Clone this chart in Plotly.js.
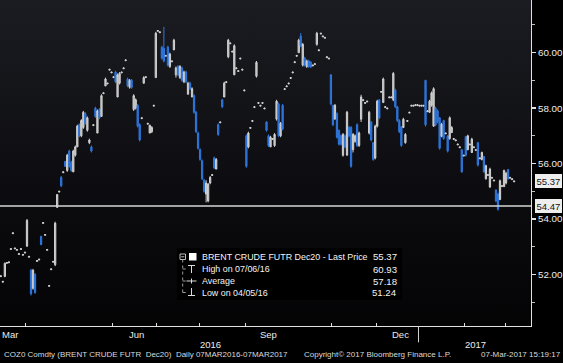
<!DOCTYPE html>
<html>
<head>
<meta charset="utf-8">
<script src="https://cdn.plot.ly/plotly-3.0.1.min.js"></script>
<style>html,body{margin:0;padding:0;background:#000;}#chart{width:563px;height:363px;}</style>
</head>
<body>
<div id="chart"></div>
<script>
// ---- Data ----
const dates = [
'2016-03-14','2016-03-15','2016-03-16','2016-03-17','2016-03-18',
'2016-03-21','2016-03-22','2016-03-23','2016-03-24','2016-03-25',
'2016-03-28','2016-03-29','2016-03-30','2016-03-31','2016-04-01',
'2016-04-04','2016-04-05','2016-04-06','2016-04-07','2016-04-08',
'2016-04-11','2016-04-12','2016-04-13','2016-04-14','2016-04-15',
'2016-04-18','2016-04-19','2016-04-20','2016-04-21','2016-04-22',
'2016-04-25','2016-04-26','2016-04-27','2016-04-28','2016-04-29',
'2016-05-02','2016-05-03','2016-05-04','2016-05-05','2016-05-06',
'2016-05-09','2016-05-10','2016-05-11','2016-05-12','2016-05-13',
'2016-05-16','2016-05-17','2016-05-18','2016-05-19','2016-05-20',
'2016-05-23','2016-05-24','2016-05-25','2016-05-26','2016-05-27',
'2016-05-30','2016-05-31','2016-06-01','2016-06-02','2016-06-03',
'2016-06-06','2016-06-07','2016-06-08','2016-06-09','2016-06-10',
'2016-06-13','2016-06-14','2016-06-15','2016-06-16','2016-06-17',
'2016-06-20','2016-06-21','2016-06-22','2016-06-23','2016-06-24',
'2016-06-27','2016-06-28','2016-06-29','2016-06-30','2016-07-01',
'2016-07-04','2016-07-05','2016-07-06','2016-07-07','2016-07-08',
'2016-07-11','2016-07-12','2016-07-13','2016-07-14','2016-07-15',
'2016-07-18','2016-07-19','2016-07-20','2016-07-21','2016-07-22',
'2016-07-25','2016-07-26','2016-07-27','2016-07-28','2016-07-29',
'2016-08-01','2016-08-02','2016-08-03','2016-08-04','2016-08-05',
'2016-08-08','2016-08-09','2016-08-10','2016-08-11','2016-08-12',
'2016-08-15','2016-08-16','2016-08-17','2016-08-18','2016-08-19',
'2016-08-22','2016-08-23','2016-08-24','2016-08-25','2016-08-26',
'2016-08-29','2016-08-30','2016-08-31','2016-09-01','2016-09-02',
'2016-09-05','2016-09-06','2016-09-07','2016-09-08','2016-09-09',
'2016-09-12','2016-09-13','2016-09-14','2016-09-15','2016-09-16',
'2016-09-19','2016-09-20','2016-09-21','2016-09-22','2016-09-23',
'2016-09-26','2016-09-27','2016-09-28','2016-09-29','2016-09-30',
'2016-10-03','2016-10-04','2016-10-05','2016-10-06','2016-10-07',
'2016-10-10','2016-10-11','2016-10-12','2016-10-13','2016-10-14',
'2016-10-17','2016-10-18','2016-10-19','2016-10-20','2016-10-21',
'2016-10-24','2016-10-25','2016-10-26','2016-10-27','2016-10-28',
'2016-10-31','2016-11-01','2016-11-02','2016-11-03','2016-11-04',
'2016-11-07','2016-11-08','2016-11-09','2016-11-10','2016-11-11',
'2016-11-14','2016-11-15','2016-11-16','2016-11-17','2016-11-18',
'2016-11-21','2016-11-22','2016-11-23','2016-11-24','2016-11-25',
'2016-11-28','2016-11-29','2016-11-30','2016-12-01','2016-12-02',
'2016-12-05','2016-12-06','2016-12-07','2016-12-08','2016-12-09',
'2016-12-12','2016-12-13','2016-12-14','2016-12-15','2016-12-16',
'2016-12-19','2016-12-20','2016-12-21','2016-12-22','2016-12-23',
'2016-12-26','2016-12-27','2016-12-28','2016-12-29','2016-12-30',
'2017-01-02','2017-01-03','2017-01-04','2017-01-05','2017-01-06',
'2017-01-09','2017-01-10','2017-01-11','2017-01-12','2017-01-13',
'2017-01-16','2017-01-17','2017-01-18','2017-01-19','2017-01-20',
'2017-01-23','2017-01-24','2017-01-25','2017-01-26','2017-01-27',
'2017-01-30','2017-01-31','2017-02-01','2017-02-02','2017-02-03',
'2017-02-06','2017-02-07','2017-02-08','2017-02-09','2017-02-10',
'2017-02-13','2017-02-14','2017-02-15','2017-02-16','2017-02-17',
'2017-02-20','2017-02-21','2017-02-22','2017-02-23','2017-02-24',
'2017-02-27','2017-02-28','2017-03-01','2017-03-02','2017-03-03',
'2017-03-06','2017-03-07'
];

const openP = [
52.62,51.92,51.72,51.93,52.40, 52.42,52.90,53.47,52.92,52.87, 52.72,52.90,52.69,52.77,53.02,
52.62,52.15,51.50,52.00,52.47, 52.52,53.37,53.84,53.41,52.87, 51.57,52.17,52.44,52.35,54.42,
54.97,55.50,55.67,56.07,55.75, 56.45,56.05,55.70,56.30,56.60, 57.40,57.00,57.30,57.80,57.20,
56.75,56.60,57.37,58.00,57.10, 57.95,57.70,58.52,58.80,58.87, 59.37,59.27,59.10,59.30,58.40,
58.90,59.27,59.42,59.71,59.05, 58.75,59.00,57.95,58.00,58.10, 57.40,57.62,58.90,59.10,57.42,
57.10,57.15,58.07,59.10,60.77, 60.72,60.20,60.15,59.87,60.20, 59.50,59.67,60.10,59.20,59.50,
59.10,59.45,58.95,59.30,58.50, 58.90,58.40,58.45,57.85,57.10, 56.50,56.10,55.40,54.90,54.65,
55.30,55.57,56.20,55.80,57.40, 57.47,58.30,58.40,58.92,59.85, 60.32,60.02,59.20,59.42,59.32,
59.77,59.37,58.62,57.00,56.60, 57.27,57.52,58.02,59.15,58.17, 58.07,58.17,57.97,57.50,57.00,
56.60,56.87,56.65,57.60,58.15, 57.00,58.10,58.67,58.77,58.87, 59.07,59.27,59.64,59.87,60.00,
60.60,59.55,59.80,59.50,59.70, 59.65,59.52,59.57,60.30,60.07, 60.67,60.57,60.52,59.82,59.77,
59.20,58.10,57.60,57.80,57.20, 57.00,56.30,57.00,56.30,57.30, 57.30,56.50,56.80,57.40,56.65,
57.60,58.27,58.17,58.22,57.10, 57.50,56.75,56.20,57.35,58.30, 58.57,58.20,58.02,57.97,58.37,
58.37,58.30,58.65,58.05,57.55, 57.33,57.30,56.75,57.52,57.82, 58.07,58.07,58.09,58.09,58.07,
58.07,58.07,59.00,57.87,57.85, 58.10,57.35,58.00,57.90,57.65, 56.98,57.55,57.07,57.00,56.90,
57.12,56.87,56.82,56.67,56.57, 56.50,56.27,56.97,56.50,56.67, 56.40,56.57,56.47,56.75,56.17,
56.14,56.25,55.45,55.57,55.15, 55.47,55.37,55.05,54.90,54.70, 55.17,55.17,55.30,55.78,55.47,
55.42,55.34
];

const highP = [
52.65,51.95,51.75,52.43,52.43, 52.45,52.93,53.50,52.95,52.90, 52.75,52.93,52.72,52.80,54.00,
52.65,52.20,52.20,52.05,52.50, 52.55,53.40,53.87,53.44,52.90, 51.60,52.20,52.47,53.90,54.90,
55.00,55.55,55.70,56.10,56.35, 56.50,56.10,56.50,56.65,57.40, 57.45,57.60,57.90,57.85,57.70,
56.90,56.65,57.40,58.05,57.95, 58.00,58.50,58.55,59.10,58.90, 59.40,59.30,59.13,59.35,59.25,
59.30,59.30,59.45,59.74,59.10, 59.05,59.05,58.50,58.35,58.15, 57.45,57.65,59.15,59.13,57.45,
57.40,57.35,58.10,60.75,60.80, 60.75,60.25,60.93,59.90,60.25, 60.00,59.70,60.50,59.50,59.55,
59.55,59.50,59.35,59.35,58.95, 58.95,58.75,58.50,57.90,57.15, 56.55,56.15,55.45,55.40,55.30,
55.55,55.60,56.25,56.20,57.45, 57.50,58.32,58.95,58.95,60.50, 60.35,60.05,60.30,59.45,59.35,
59.80,59.40,58.65,57.05,57.15, 57.30,57.55,58.05,59.70,58.20, 58.10,58.20,58.00,57.52,57.05,
57.00,56.90,57.10,58.30,58.20, 57.50,58.15,58.70,58.80,58.90, 59.10,59.30,59.67,59.90,60.50,
60.71,60.35,59.85,59.75,59.75, 59.70,59.55,59.60,60.75,60.10, 60.70,60.60,60.55,59.85,59.80,
59.22,58.12,58.15,57.85,57.22, 57.05,57.10,57.05,57.90,57.35, 57.35,57.10,57.05,57.45,57.15,
58.48,58.30,58.20,58.25,57.90, 57.52,56.78,57.40,58.30,58.32, 58.60,59.10,58.05,58.00,58.40,
58.40,59.30,58.70,58.08,57.60, 57.35,57.65,57.10,57.55,57.85, 58.10,58.10,58.12,58.12,58.10,
58.10,58.10,59.02,57.90,58.30, 58.60,58.75,58.05,57.95,57.68, 57.47,57.58,57.10,57.02,57.70,
57.35,56.90,56.85,56.70,56.60, 56.52,56.30,57.00,57.04,56.70, 56.93,56.60,56.50,56.78,56.20,
56.43,56.28,55.96,55.60,55.85, 55.50,55.40,55.06,54.95,55.42, 55.20,55.78,55.70,55.80,55.50,
55.45,55.37
];

const lowP = [
52.62,51.92,51.72,51.90,52.40, 52.42,52.90,53.47,52.92,52.87, 52.72,52.90,52.69,52.77,53.00,
52.62,51.24,51.45,51.30,52.47, 52.52,53.05,53.84,53.41,52.87, 51.57,52.17,52.44,52.30,54.40,
54.97,55.15,55.67,55.88,55.70, 55.85,55.70,55.70,56.25,56.60, 56.95,56.95,57.25,57.40,57.15,
56.70,56.40,57.37,57.65,57.10, 57.60,57.70,58.52,58.80,58.87, 59.37,59.27,59.10,58.90,58.40,
58.85,59.27,59.42,59.71,58.75, 58.70,58.70,57.90,57.95,57.30, 56.80,57.62,58.88,59.10,57.42,
57.10,57.10,58.07,59.10,60.77, 60.72,59.75,59.65,59.87,59.50, 59.45,59.67,60.10,59.10,59.15,
59.05,58.95,58.90,58.90,58.50, 58.65,58.40,57.80,57.10,56.50, 56.10,55.40,54.95,54.60,54.60,
55.25,55.57,55.80,55.80,57.00, 57.47,58.00,58.40,58.92,59.80, 60.32,60.02,59.20,59.42,59.32,
59.77,59.37,58.62,55.85,56.55, 57.27,57.52,58.02,59.10,58.17, 58.07,58.17,57.97,57.15,56.60,
56.60,56.87,56.60,57.55,56.95, 56.95,57.20,58.67,58.77,58.87, 59.07,59.27,59.64,59.87,60.00,
60.20,59.50,59.50,59.45,59.45, 59.45,59.52,59.57,60.25,60.07, 60.67,60.57,60.52,59.82,59.77,
58.10,57.35,57.60,56.90,56.65, 56.65,56.25,56.55,56.30,56.95, 55.85,56.40,56.75,56.60,56.60,
57.50,58.27,58.17,58.22,57.05, 56.80,56.10,56.15,57.30,57.60, 58.57,58.20,58.02,57.97,58.37,
58.37,58.25,58.00,57.50,57.10, 56.60,57.28,56.72,57.52,57.82, 58.07,58.07,58.09,58.09,58.07,
58.07,58.07,57.33,57.87,57.83, 58.05,57.33,57.35,57.45,56.50, 56.95,56.86,57.07,56.40,56.86,
57.10,56.87,56.82,56.67,56.57, 55.67,56.27,56.25,56.48,56.67, 56.38,56.57,56.47,55.89,56.17,
56.12,55.67,55.42,55.57,55.13, 55.47,55.37,54.60,54.30,54.68, 55.17,55.15,55.25,55.42,55.47,
55.42,55.34
];

const closeP = [
52.65,51.95,51.75,52.40,52.43, 52.45,52.93,53.50,52.95,52.90, 52.75,52.93,52.72,52.80,53.95,
52.65,51.30,52.15,51.35,52.50, 52.55,53.08,53.87,53.44,52.90, 51.60,52.20,52.47,53.85,54.88,
55.00,55.20,55.70,55.90,56.30, 55.90,55.75,56.45,56.60,57.35, 57.00,57.55,57.85,57.45,57.65,
56.85,56.45,57.40,57.70,57.90, 57.65,58.45,58.55,59.05,58.90, 59.40,59.30,59.13,58.95,59.20,
59.25,59.30,59.45,59.74,58.80, 59.00,58.75,58.45,58.30,57.35, 56.85,57.65,59.10,59.13,57.45,
57.38,57.30,58.10,60.70,60.80, 60.75,59.80,59.70,59.90,59.55, 59.95,59.70,60.45,59.45,59.20,
59.50,59.00,59.30,58.95,58.90, 58.70,58.70,57.85,57.15,56.55, 56.15,55.45,55.00,55.30,55.25,
55.50,55.60,55.85,56.15,57.05, 57.50,58.05,58.90,58.95,60.45, 60.35,60.05,60.25,59.45,59.35,
59.80,59.40,58.65,55.90,57.10, 57.30,57.55,58.05,59.65,58.20, 58.10,58.20,58.00,57.20,56.65,
56.95,56.90,57.05,58.25,57.00, 57.45,57.25,58.70,58.80,58.90, 59.10,59.30,59.67,59.90,60.45,
60.25,60.30,59.55,59.70,59.50, 59.48,59.55,59.60,60.70,60.10, 60.70,60.60,60.55,59.85,59.80,
58.15,57.40,58.10,56.95,56.70, 56.70,57.05,56.60,57.85,57.00, 55.90,57.05,57.00,56.65,57.10,
58.40,58.30,58.20,58.25,57.85, 56.85,56.15,57.35,58.25,57.65, 58.60,59.05,58.05,58.00,58.40,
58.40,59.25,58.05,57.55,57.15, 56.65,57.60,57.05,57.55,57.85, 58.10,58.10,58.12,58.12,58.10,
58.10,58.10,57.40,57.90,58.25, 58.55,58.70,57.40,57.50,56.55, 57.42,56.90,57.10,56.45,57.65,
57.30,56.90,56.85,56.70,56.60, 55.70,56.30,56.30,57.00,56.70, 56.88,56.60,56.50,55.95,56.20,
56.40,55.70,55.92,55.60,55.80, 55.50,55.40,54.65,54.35,55.38, 55.20,55.75,55.65,55.45,55.50,
55.45,55.37
];

const monthTicks = ['2016-04-01','2016-05-01','2016-06-01','2016-07-01','2016-08-01','2016-09-01',
  '2016-10-01','2016-11-01','2016-12-01','2017-01-01','2017-02-01','2017-03-01'];
const yTickVals = [52, 54, 56, 58, 60];
const yTickText = ['52.00', '54.00', '56.00', '58.00', '60.00'];
const yMinorVals = [51, 53, 55, 57, 59, 61];
const monthLabels = ['Mar', 'Jun', 'Sep', 'Dec'];
const yearLabels = ['2016', '2017'];
const lastPrice = 55.37;
const refLevel = 54.47;
const legendNames = ['BRENT CRUDE FUTR Dec20 - Last Price', 'High on 07/06/16', 'Average', 'Low on 04/05/16'];
const legendValues = ['55.37', '60.93', '57.18', '51.24'];

// ---- Layout helpers (pixel positions inside the 531x326 plot area) ----
const PW = 531, PH = 326;
const fx = p => p / PW;
const fy = p => 1 - p / PH;
const FONT = 'Liberation Sans, Arial, sans-serif';
const TXT = '#ececec';

const xs = dates.map(d => d + ' 12:00');

const trace = {
  type: 'candlestick',
  x: xs, open: openP, high: highP, low: lowP, close: closeP,
  increasing: {line: {color: '#d2d2d2', width: 1}, fillcolor: '#b9b9b9'},
  decreasing: {line: {color: '#2f78e0', width: 1}, fillcolor: '#2a6cd2'},
  whiskerwidth: 0,
  hoverinfo: 'skip',
  showlegend: false
};

const svgBg = '<svg xmlns="http://www.w3.org/2000/svg" width="100" height="100" viewBox="0 0 100 100" preserveAspectRatio="none">' +
  '<defs><linearGradient id="g" x1="0" y1="0" x2="0" y2="1">' +
  '<stop offset="0" stop-color="#1b1c21"/><stop offset="0.55" stop-color="#0d0d11"/><stop offset="1" stop-color="#040405"/>' +
  '</linearGradient></defs><rect width="100" height="100" fill="url(#g)"/></svg>';

const ln = (x0, y0, x1, y1, color, dash) => ({
  type: 'line', xref: 'paper', yref: 'paper', x0: fx(x0), y0: fy(y0), x1: fx(x1), y1: fy(y1),
  line: {color: color || '#cfcfcf', width: 1, dash: dash || 'solid'}, layer: 'above'
});

const shapes = [
  // reference level line
  {type: 'line', xref: 'paper', yref: 'y', x0: 0, x1: 1, y0: refLevel, y1: refLevel,
   line: {color: '#d6d6d6', width: 1.5}, layer: 'above'},
  // year boundary long tick
  {type: 'line', xref: 'x', yref: 'paper', x0: '2017-01-01', x1: '2017-01-01', y0: 0, y1: -0.05,
   line: {color: '#d6d6d6', width: 1}},
  // legend background
  {type: 'rect', xref: 'paper', yref: 'paper', x0: fx(177), x1: fx(402), y0: fy(300), y1: fy(248),
   fillcolor: '#000000', line: {width: 0}, layer: 'above'},
  // legend tree
  {type: 'rect', xref: 'paper', yref: 'paper', x0: fx(180), x1: fx(185.5), y0: fy(259.5), y1: fy(254),
   line: {color: '#bdbdbd', width: 1}, layer: 'above'},
  ln(181.2, 256.8, 184.3, 256.8, '#bdbdbd'),
  ln(182.7, 259.5, 182.7, 292.5, '#9a9a9a', 'dot'),
  ln(182.7, 269, 186, 269, '#9a9a9a', 'dot'),
  ln(182.7, 281, 186, 281, '#9a9a9a', 'dot'),
  ln(182.7, 292.5, 186, 292.5, '#9a9a9a', 'dot'),
  {type: 'rect', xref: 'paper', yref: 'paper', x0: fx(189), x1: fx(196.5), y0: fy(260.5), y1: fy(253),
   fillcolor: '#ffffff', line: {width: 0}, layer: 'above'},
  // high marker (T)
  ln(188, 265.5, 195, 265.5, '#dcdcdc'), ln(191.5, 265.5, 191.5, 273, '#dcdcdc'),
  // average marker
  ln(186.5, 281, 196.5, 281, '#dcdcdc'), ln(191.5, 278.5, 191.5, 283.5, '#dcdcdc'),
  // low marker (inverted T)
  ln(191.5, 288, 191.5, 295.5, '#dcdcdc'), ln(188, 295.5, 195, 295.5, '#dcdcdc')
];

const annotations = [];
const rowsY = [256.8, 269, 281, 292.5];
legendNames.forEach((t, i) => {
  annotations.push({xref: 'paper', yref: 'paper', x: fx(199.5), y: fy(rowsY[i]), xanchor: 'left', yanchor: 'middle',
    text: t, showarrow: false, font: {family: FONT, size: 8.9, color: '#f4f4f4'}});
  annotations.push({xref: 'paper', yref: 'paper', x: fx(398.5), y: fy(rowsY[i]), xanchor: 'right', yanchor: 'middle',
    text: legendValues[i], showarrow: false, font: {family: FONT, size: 9.6, color: '#f4f4f4'}});
});
// month and year labels
const monthPx = [10, 136, 268, 400];
monthLabels.forEach((t, i) => annotations.push({xref: 'paper', yref: 'paper', x: fx(monthPx[i]), y: 0,
  yshift: -8, xanchor: 'center', yanchor: 'middle', text: t, showarrow: false,
  font: {family: FONT, size: 9.5, color: TXT}}));
const yearPx = [210, 475];
yearLabels.forEach((t, i) => annotations.push({xref: 'paper', yref: 'paper', x: fx(yearPx[i]), y: 0,
  yshift: -18.5, xanchor: 'center', yanchor: 'middle', text: t, showarrow: false,
  font: {family: FONT, size: 9.5, color: TXT}}));
// footer
annotations.push({xref: 'paper', yref: 'paper', x: fx(1.5), y: 0, yshift: -28.5, xanchor: 'left', yanchor: 'middle',
  text: 'COZ0 Comdty (BRENT CRUDE FUTR  Dec20)  Daily 07MAR2016-07MAR2017', showarrow: false,
  font: {family: FONT, size: 8, color: '#dadada'}});
annotations.push({xref: 'paper', yref: 'paper', x: fx(302), y: 0, yshift: -28.5, xanchor: 'left', yanchor: 'middle',
  text: 'Copyright\u00a9 2017 Bloomberg Finance L.P.', showarrow: false,
  font: {family: FONT, size: 8, color: '#dadada'}});
annotations.push({xref: 'paper', yref: 'paper', x: fx(562.5), y: 0, yshift: -28.5, xanchor: 'right', yanchor: 'middle',
  text: '07-Mar-2017 15:19:17', showarrow: false,
  font: {family: FONT, size: 8, color: '#dadada'}});
// price tags on the right axis
[lastPrice, refLevel].forEach(v => annotations.push({xref: 'paper', yref: 'y', x: 1, xshift: 4, y: v,
  xanchor: 'left', yanchor: 'middle', text: v.toFixed(2), showarrow: false,
  bgcolor: '#eeeeee', bordercolor: '#eeeeee', borderpad: 0.5,
  font: {family: FONT, size: 9.5, color: '#111111'}}));

const layout = {
  width: 563, height: 363,
  margin: {l: 0, r: 32, t: 0, b: 37, pad: 0},
  paper_bgcolor: '#000000',
  plot_bgcolor: '#0d0d10',
  boxgap: 0.1,
  showlegend: false,
  font: {family: FONT, color: TXT, size: 9.5},
  images: [{source: 'data:image/svg+xml;charset=utf-8,' + encodeURIComponent(svgBg),
    xref: 'paper', yref: 'paper', x: 0, y: 1, sizex: 1, sizey: 1, sizing: 'stretch',
    xanchor: 'left', yanchor: 'top', layer: 'below'}],
  xaxis: {
    type: 'date',
    rangebreaks: [{bounds: ['sat', 'mon']}],
    range: ['2016-03-15 02:10', '2017-03-17 21:36'],
    rangeslider: {visible: false},
    showgrid: false, zeroline: false,
    showline: true, linecolor: '#e2e2e2', linewidth: 1,
    tickmode: 'array', tickvals: monthTicks, ticktext: monthTicks.map(() => ''),
    ticks: 'inside', ticklen: 3, tickcolor: '#e2e2e2', tickwidth: 1,
    showticklabels: false, fixedrange: true
  },
  yaxis: {
    side: 'right',
    range: [50.14, 61.9],
    showgrid: false, zeroline: false,
    showline: true, linecolor: '#e2e2e2', linewidth: 1,
    tickmode: 'array', tickvals: yTickVals, ticktext: yTickText,
    ticks: 'outside', ticklen: 4, tickwidth: 1.5, tickcolor: '#e2e2e2',
    tickfont: {family: FONT, size: 9.8, color: TXT},
    minor: {tickmode: 'array', tickvals: yMinorVals, ticks: 'outside', ticklen: 3, tickcolor: '#bdbdbd', tickwidth: 1, showgrid: false},
    fixedrange: true
  },
  shapes: shapes,
  annotations: annotations
};

Plotly.newPlot('chart', [trace], layout, {staticPlot: true, displayModeBar: false});
</script>
</body>
</html>
